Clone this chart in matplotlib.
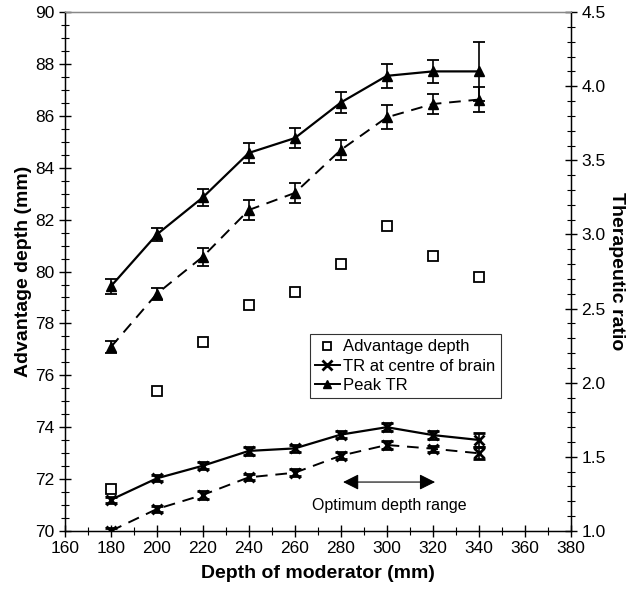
import matplotlib
matplotlib.use("Agg")
import matplotlib.pyplot as plt
from matplotlib.ticker import MultipleLocator, FormatStrFormatter
from matplotlib.lines import Line2D

plt.rcParams['font.family'] = ['Liberation Sans', 'DejaVu Sans']

depth = [180, 200, 220, 240, 260, 280, 300, 320, 340]

# advantage depth (mm), left axis
adv_depth = [71.6, 75.4, 77.3, 78.7, 79.2, 80.3, 81.75, 80.6, 79.8]

# peak TR (right axis), two conditions
peak_tr_a = [2.65, 3.00, 3.25, 3.55, 3.65, 3.89, 4.07, 4.10, 4.10]
peak_tr_a_err = [0.05, 0.045, 0.06, 0.07, 0.07, 0.07, 0.08, 0.075, 0.2]
peak_tr_b = [2.24, 2.60, 2.85, 3.165, 3.28, 3.57, 3.79, 3.88, 3.91]
peak_tr_b_err = [0.04, 0.04, 0.06, 0.065, 0.065, 0.065, 0.08, 0.07, 0.085]

# TR at centre of brain (right axis)
centre_tr_a = [1.21, 1.355, 1.44, 1.54, 1.557, 1.65, 1.70, 1.647, 1.614]
centre_tr_a_err = [0.02, 0.02, 0.025, 0.025, 0.025, 0.025, 0.025, 0.025, 0.05]
centre_tr_b = [1.0, 1.148, 1.243, 1.362, 1.393, 1.508, 1.58, 1.555, 1.524]
centre_tr_b_err = [0.02, 0.02, 0.025, 0.02, 0.025, 0.025, 0.025, 0.02, 0.04]

fig = plt.figure(figsize=(6.42, 5.93), dpi=100)
ax = fig.add_axes([0.101, 0.1046, 0.788, 0.875])
ax2 = ax.twinx()

ax.plot(depth, adv_depth, linestyle='none', marker='s', markersize=7,
        markerfacecolor='white', markeredgecolor='black', markeredgewidth=1.3, zorder=3)

eb = dict(color='black', ecolor='black', elinewidth=1.2, capsize=4, capthick=1.3)
ax2.errorbar(depth, peak_tr_a, yerr=peak_tr_a_err, linestyle='-', linewidth=1.6,
             marker='^', markersize=6.5, **eb)
ax2.errorbar(depth, peak_tr_b, yerr=peak_tr_b_err, linestyle=(0, (6, 4)), linewidth=1.4,
             marker='^', markersize=6.5, **eb)
ax2.errorbar(depth, centre_tr_a, yerr=centre_tr_a_err, linestyle='-', linewidth=1.6,
             marker='x', markersize=7, markeredgewidth=2, **eb)
ax2.errorbar(depth, centre_tr_b, yerr=centre_tr_b_err, linestyle=(0, (6, 4)), linewidth=1.4,
             marker='x', markersize=7, markeredgewidth=2, **eb)

ax.set_xlim(160, 380)
ax.set_ylim(70, 90)
ax2.set_ylim(1.0, 4.5)

ax.xaxis.set_major_locator(MultipleLocator(20))
ax.xaxis.set_minor_locator(MultipleLocator(10))
ax.yaxis.set_major_locator(MultipleLocator(2))
ax.yaxis.set_minor_locator(MultipleLocator(0.5))
ax2.yaxis.set_major_locator(MultipleLocator(0.5))
ax2.yaxis.set_minor_locator(MultipleLocator(0.1))

for a in (ax, ax2):
    a.tick_params(which='major', direction='inout', length=8, width=1, labelsize=12.5)
    a.tick_params(which='minor', direction='inout', length=6, width=0.8)
ax.tick_params(axis='x', which='both', top=False)
ax2.yaxis.set_major_formatter(FormatStrFormatter('%.1f'))

for s in ax.spines.values():
    s.set_linewidth(1)
ax.spines['top'].set_color('#888888')
ax2.spines['top'].set_color('#888888')

ax.set_xlabel("Depth of moderator (mm)", fontsize=14, fontweight='bold', labelpad=6)
ax.set_ylabel("Advantage depth (mm)", fontsize=14, fontweight='bold', labelpad=2)
ax2.set_ylabel("Therapeutic ratio", fontsize=14, fontweight='bold', rotation=270, labelpad=14)

ax2.annotate('', xy=(281, 1.33), xytext=(321, 1.33),
             arrowprops=dict(arrowstyle='<|-|>', color='black', lw=0.8,
                             mutation_scale=24, shrinkA=0, shrinkB=0))
ax2.text(301, 1.175, "Optimum depth range", ha='center', va='center', fontsize=11.5)

handles = [
    Line2D([], [], linestyle='none', marker='s', markersize=6,
           markerfacecolor='white', markeredgecolor='black', markeredgewidth=1.3),
    Line2D([], [], color='black', marker='x', markersize=7, markeredgewidth=2, linewidth=1.4),
    Line2D([], [], color='black', marker='^', markersize=6, linewidth=1.4),
]
labels = ["Advantage depth", "TR at centre of brain", "Peak TR"]
leg = ax2.legend(handles, labels, loc='upper left', bbox_to_anchor=(0.468, 0.395),
                 fontsize=12, frameon=True, fancybox=False, edgecolor='black',
                 handlelength=1.5, handletextpad=0.2, borderpad=0.3, labelspacing=0.25)
leg.get_frame().set_linewidth(0.8)

fig.savefig("out.png", dpi=100)
